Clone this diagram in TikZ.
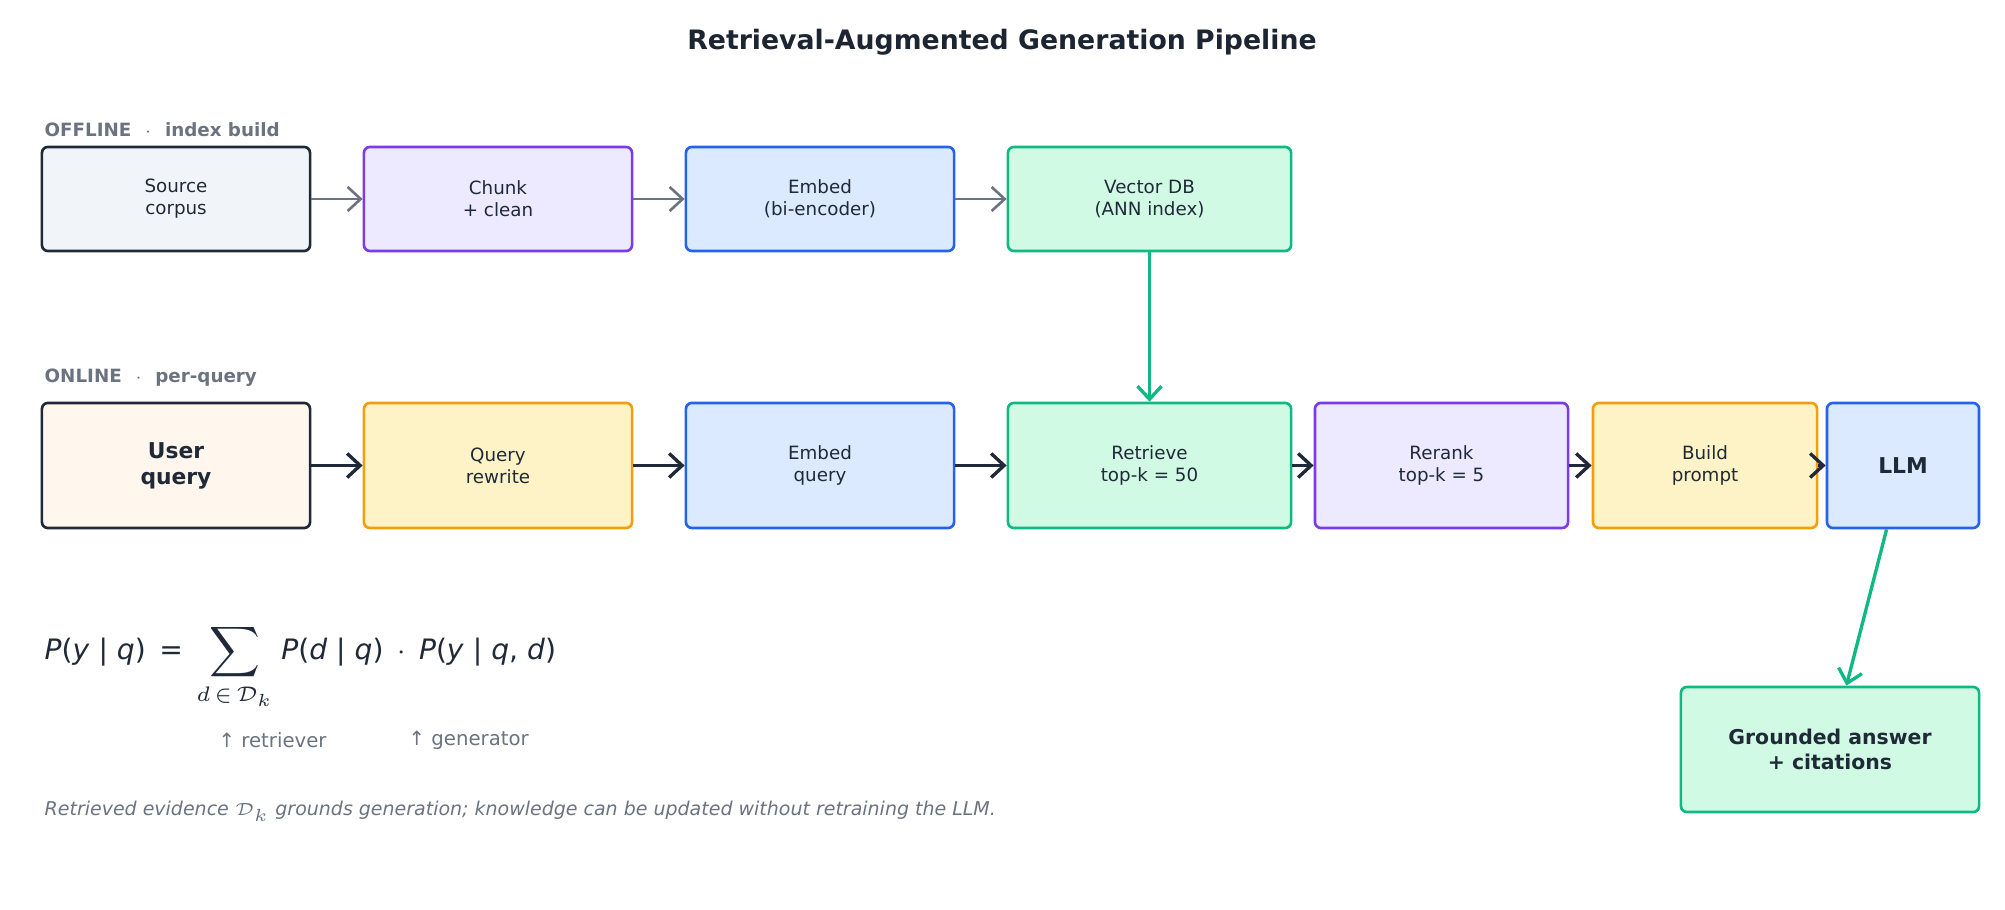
\documentclass[tikz,border=0pt]{standalone}
\usepackage{fontspec}
\setmainfont{DejaVu Sans}
\usetikzlibrary{arrows.meta}
\definecolor{ink}{HTML}{1F2937}
\definecolor{gry}{HTML}{6B7280}
\definecolor{pur}{HTML}{7C3AED}\definecolor{purf}{HTML}{EDE9FE}
\definecolor{blu}{HTML}{2563EB}\definecolor{bluf}{HTML}{DBEAFE}
\definecolor{grn}{HTML}{10B981}\definecolor{grnf}{HTML}{D1FAE5}
\definecolor{org}{HTML}{F59E0B}\definecolor{orgf}{HTML}{FEF3C7}
\definecolor{slf}{HTML}{F1F5F9}\definecolor{usf}{HTML}{FFF7ED}
\tikzset{
 box/.style={draw, rounded corners=0.06cm, line width=0.75pt, align=center, text=ink, font=\fontsize{5.2}{6.3}\selectfont, inner sep=0pt},
 gbox/.style={box, draw=ink, fill=slf},
 pbox/.style={box, draw=pur, fill=purf},
 bbox/.style={box, draw=blu, fill=bluf},
 nbox/.style={box, draw=grn, fill=grnf},
 obox/.style={box, draw=org, fill=orgf},
 offr/.style={minimum height=1.04cm},
 onr/.style={minimum height=1.25cm},
 garr/.style={-{Straight Barb[length=1.3mm,width=2.4mm]}, draw=gry, line width=0.75pt},
 darr/.style={-{Straight Barb[length=1.3mm,width=2.4mm]}, draw=ink, line width=0.95pt},
 narr/.style={-{Straight Barb[length=1.3mm,width=2.4mm]}, draw=grn, line width=0.95pt},
 lbl/.style={anchor=west, text=gry, font=\fontsize{5.2}{6}\selectfont\bfseries, inner sep=0pt},
}
\begin{document}
\begin{tikzpicture}[x=0.01cm,y=-0.01cm]
\useasboundingbox (0,0) rectangle (2005,910);
\node[text=ink!90!black, font=\fontsize{7.6}{9}\selectfont\bfseries] (title) at (1002,42) {Retrieval-Augmented Generation Pipeline};
\node[lbl] (offl) at (44,130) {OFFLINE \ $\cdot$ \ index build};
\node[lbl] (onl) at (44,378) {ONLINE \ $\cdot$ \ per-query};
% offline
\node[gbox,offr,minimum width=2.68cm] (src) at (176,199) {Source\\corpus};
\node[pbox,offr,minimum width=2.68cm] (chk) at (498,199) {Chunk\\+ clean};
\node[bbox,offr,minimum width=2.68cm] (emb) at (820,199) {Embed\\(bi-encoder)};
\node[nbox,offr,minimum width=2.83cm] (vdb) at (1149.5,199) {Vector DB\\(ANN index)};
% online
\node[gbox,onr,minimum width=2.68cm,fill=usf,font=\fontsize{6.2}{7.4}\selectfont\bfseries] (usr) at (176,465.5) {User\\query};
\node[obox,onr,minimum width=2.68cm] (qr) at (498,465.5) {Query\\rewrite};
\node[bbox,onr,minimum width=2.68cm] (eq) at (820,465.5) {Embed\\query};
\node[nbox,onr,minimum width=2.83cm] (ret) at (1149.5,465.5) {Retrieve\\top-k = 50};
\node[pbox,onr,minimum width=2.53cm] (rr) at (1441.5,465.5) {Rerank\\top-k = 5};
\node[obox,onr,minimum width=2.24cm] (bp) at (1705,465.5) {Build\\prompt};
\node[bbox,onr,minimum width=1.52cm,font=\fontsize{6.2}{7.4}\selectfont\bfseries] (llm) at (1903,465.5) {LLM};
\node[nbox,minimum height=1.25cm,minimum width=2.98cm,font=\fontsize{5.8}{7}\selectfont\bfseries] (ans) at (1830,749.5) {Grounded answer\\+ citations};
% arrows
\draw[garr] (src) -- (chk);
\draw[garr] (chk) -- (emb);
\draw[garr] (emb) -- (vdb);
\draw[narr] (vdb) -- (ret);
\draw[darr] (usr) -- (qr);
\draw[darr] (qr) -- (eq);
\draw[darr] (eq) -- (ret);
\draw[darr] (ret) -- (rr);
\draw[darr] (rr) -- (bp);
\draw[darr] (bp) -- (llm);
\draw[narr] (llm) -- (ans);
% formula
\node[anchor=west, text=ink, font=\fontsize{8}{9.6}\selectfont, inner sep=0pt] (eqn) at (44,667)
 {\textit{P}(\textit{y} | \textit{q}) \,=\, $\displaystyle\sum_{d\,\in\,\mathcal{D}_k}$ \textit{P}(\textit{d} | \textit{q}) \,$\cdot$\, \textit{P}(\textit{y} | \textit{q}, \textit{d})};
\node[anchor=west, text=gry, font=\fontsize{5.6}{7}\selectfont, inner sep=0pt] (rv) at (218,740) {↑ retriever};
\node[anchor=west, text=gry, font=\fontsize{5.6}{7}\selectfont, inner sep=0pt] (gn) at (408,740) {↑ generator};
\node[anchor=west, text=gry, font=\fontsize{5.4}{7}\selectfont\itshape, inner sep=0pt] (foot) at (44,811) {Retrieved evidence $\mathcal{D}_k$ grounds generation; knowledge can be updated without retraining the LLM.};
\end{tikzpicture}
\end{document}
